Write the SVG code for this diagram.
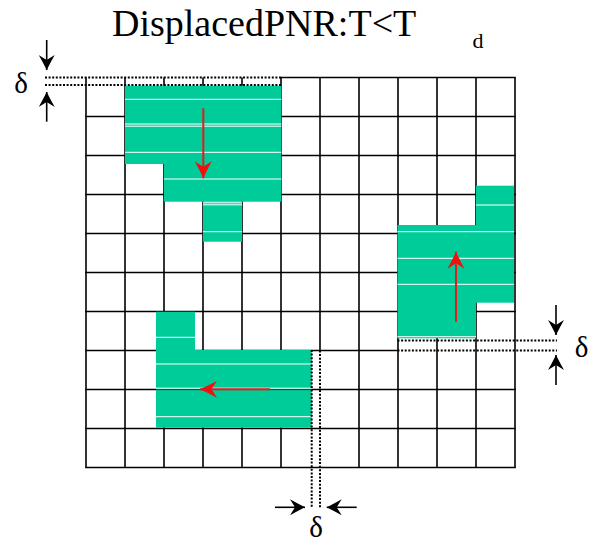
<svg xmlns="http://www.w3.org/2000/svg" width="592" height="537" viewBox="0 0 592 537">
<defs>
<style>
.grid line{stroke:#000;stroke-width:1.6}
.dot{stroke:#000;stroke-width:2;stroke-dasharray:2 1.6;fill:none}
.g{fill:#00CC99}
.w{stroke:#fff;stroke-width:1}
.ra{stroke:#E41B1B;stroke-width:2;marker-end:url(#rh)}
.ba{stroke:#000;stroke-width:1.6;marker-end:url(#bh)}
.t{font-family:"Liberation Serif","Times New Roman",serif;fill:#000}
</style>
<marker id="bh" viewBox="0 0 15 16" refX="15" refY="8" markerWidth="15" markerHeight="16" orient="auto" markerUnits="userSpaceOnUse">
<path d="M15,8 Q7,4 0,0 L5,8 L0,16 Q7,12 15,8 Z" fill="#000"/>
</marker>
<marker id="rh" viewBox="0 0 17 17" refX="17" refY="8.5" markerWidth="17" markerHeight="17" orient="auto" markerUnits="userSpaceOnUse">
<path d="M17,8.5 Q8,4.5 0,0 L5.5,8.5 L0,17 Q8,12.5 17,8.5 Z" fill="#F01010"/>
</marker>
</defs>
<rect width="592" height="537" fill="#fff"/>
<text id="title" class="t" x="112" y="36" font-size="38">DisplacedPNR:T&lt;T</text>
<text id="title-sub" class="t" x="472.5" y="48" font-size="22">d</text>
<g id="grid" class="grid">
<line x1="86" y1="77.5" x2="86" y2="467.5"/>
<line x1="125" y1="77.5" x2="125" y2="467.5"/>
<line x1="164" y1="77.5" x2="164" y2="467.5"/>
<line x1="203" y1="77.5" x2="203" y2="467.5"/>
<line x1="242" y1="77.5" x2="242" y2="467.5"/>
<line x1="281" y1="77.5" x2="281" y2="467.5"/>
<line x1="320" y1="77.5" x2="320" y2="350.5"/>
<line x1="359" y1="77.5" x2="359" y2="467.5"/>
<line x1="398" y1="77.5" x2="398" y2="467.5"/>
<line x1="437" y1="77.5" x2="437" y2="467.5"/>
<line x1="476" y1="77.5" x2="476" y2="467.5"/>
<line x1="515" y1="77.5" x2="515" y2="467.5"/>
<line x1="281" y1="77.5" x2="515.8" y2="77.5"/>
<line x1="85.2" y1="116.5" x2="515.8" y2="116.5"/>
<line x1="85.2" y1="155.5" x2="515.8" y2="155.5"/>
<line x1="85.2" y1="194.5" x2="515.8" y2="194.5"/>
<line x1="85.2" y1="233.5" x2="515.8" y2="233.5"/>
<line x1="85.2" y1="272.5" x2="515.8" y2="272.5"/>
<line x1="85.2" y1="311.5" x2="515.8" y2="311.5"/>
<line x1="85.2" y1="350.5" x2="397.5" y2="350.5"/>
<line x1="85.2" y1="389.5" x2="515.8" y2="389.5"/>
<line x1="85.2" y1="428.5" x2="515.8" y2="428.5"/>
<line x1="85.2" y1="467.5" x2="515.8" y2="467.5"/>
</g>
<g id="block-top">
<rect class="g" x="125" y="85.7" width="39" height="78.3"/>
<rect class="g" x="164" y="85.7" width="117.3" height="116"/>
<rect class="g" x="203" y="201.7" width="39" height="40"/>
<line class="w" x1="125" y1="99.3" x2="281.3" y2="99.3"/>
<line class="w" x1="125" y1="124" x2="281.3" y2="124"/>
<line class="w" x1="125" y1="126.2" x2="281.3" y2="126.2"/>
<line class="w" x1="125" y1="152.3" x2="281.3" y2="152.3"/>
<line class="w" x1="164" y1="179" x2="281.3" y2="179"/>
<line class="w" x1="203" y1="202.8" x2="242" y2="202.8"/>
<line class="w" x1="203" y1="204.8" x2="242" y2="204.8"/>
<line class="w" x1="203" y1="231.7" x2="242" y2="231.7"/>
</g>
<g id="block-right">
<rect class="g" x="476" y="185.7" width="38" height="117"/>
<rect class="g" x="397.5" y="225" width="78.5" height="113.3"/>
<line class="w" x1="476" y1="205" x2="514" y2="205"/>
<line class="w" x1="397.5" y1="231.7" x2="514" y2="231.7"/>
<line class="w" x1="397.5" y1="258.3" x2="514" y2="258.3"/>
<line class="w" x1="397.5" y1="284.3" x2="514" y2="284.3"/>
<line class="w" x1="397.5" y1="336.7" x2="476" y2="336.7"/>
</g>
<g id="block-bottom">
<rect class="g" x="156" y="311.7" width="39" height="38.3"/>
<rect class="g" x="156" y="350" width="155.7" height="77.7"/>
<line class="w" x1="156" y1="337.3" x2="195" y2="337.3"/>
<line class="w" x1="156" y1="364" x2="311.7" y2="364"/>
<line class="w" x1="156" y1="388.2" x2="311.7" y2="388.2"/>
<line x1="156" y1="389.6" x2="311.7" y2="389.6" stroke="#333" stroke-width="1"/>
<line class="w" x1="156" y1="416.7" x2="311.7" y2="416.7"/>
</g>
<g id="connectors">
<line class="ra" x1="203.3" y1="108.3" x2="203.3" y2="178.3"/>
<line class="ra" x1="456" y1="321.7" x2="456" y2="251.7"/>
<line class="ra" x1="270" y1="389.3" x2="200" y2="389.3"/>
<line class="dot" x1="45" y1="77.5" x2="281" y2="77.5"/>
<line class="dot" x1="45" y1="85" x2="281" y2="85"/>
<line class="dot" x1="397.5" y1="340.5" x2="557" y2="340.5"/>
<line class="dot" x1="397.5" y1="350.5" x2="557" y2="350.5"/>
<line class="dot" x1="311.7" y1="350" x2="311.7" y2="508"/>
<line class="dot" x1="320" y1="350.5" x2="320" y2="508"/>
<line class="ba" x1="46.7" y1="40" x2="46.7" y2="70"/>
<line class="ba" x1="46.7" y1="121.7" x2="46.7" y2="92"/>
<line class="ba" x1="556" y1="305" x2="556" y2="335"/>
<line class="ba" x1="556" y1="385" x2="556" y2="355"/>
<line class="ba" x1="275" y1="507.3" x2="305" y2="507.3"/>
<line class="ba" x1="356.7" y1="507.3" x2="326.7" y2="507.3"/>
</g>
<g id="labels">
<text class="t" x="21" y="93" font-size="29" text-anchor="middle">δ</text>
<text class="t" x="581.5" y="356.5" font-size="29" text-anchor="middle">δ</text>
<text class="t" x="316" y="537" font-size="29" text-anchor="middle">δ</text>
</g>
</svg>
